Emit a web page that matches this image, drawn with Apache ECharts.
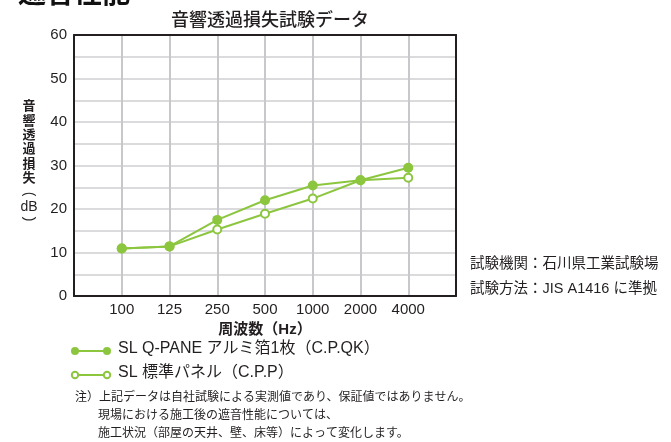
<!DOCTYPE html>
<html><head><meta charset="utf-8">
<script src="https://cdn.jsdelivr.net/npm/echarts@6/dist/echarts.min.js"></script>
<style>html,body{margin:0;padding:0;background:#fff}#c{width:671px;height:442px}</style>
</head><body><div id="c"></div>
<script>
const categories = ['100','125','250','500','1000','2000','4000'];
const seriesQK = [10.9, 11.4, 17.5, 22.0, 25.4, 26.6, 29.5];
const seriesCPP = [10.9, 11.4, 15.3, 18.9, 22.4, 26.6, 27.2];
const seriesNames = ['SL Q-PANE アルミ箔1枚（C.P.QK）', 'SL 標準パネル（C.P.P）'];
const yTicks = [0, 10, 20, 30, 40, 50, 60];

const FONT = '"Liberation Sans", "Noto Sans CJK JP", sans-serif';
const JP = '"Noto Sans CJK JP", "Liberation Sans", sans-serif';
const GREEN = '#8cc63f';
const DARK = '#231f20';

const toPts = arr => arr.map((v, i) => [i + 1, v]);

const chart = echarts.init(document.getElementById('c'), null, {renderer: 'canvas'});
const legendX = 75, legendY0 = 351, legendDy = 24;
const graphics = [
  {type:'text', left: 18, top: -22, style:{text:'遮音性能', font:'bold 28px ' + JP, fill:'#111'}},
  {type:'text', x: 29, y: 98, style:{text:'音\n響\n透\n過\n損\n失', font:'bold 13px ' + JP, fill:DARK, lineHeight: 14.4, align:'center', verticalAlign:'top'}},
  {type:'text', x: 29, y: 194, rotation: -Math.PI/2, style:{text:'(', font:'14px ' + FONT, fill:DARK, align:'center', verticalAlign:'middle'}},
  {type:'text', x: 29, y: 207, style:{text:'dB', font:'14px ' + FONT, fill:DARK, align:'center', verticalAlign:'middle'}},
  {type:'text', x: 29, y: 219, rotation: -Math.PI/2, style:{text:')', font:'14px ' + FONT, fill:DARK, align:'center', verticalAlign:'middle'}},
  {type:'text', left: 470, top: 257, style:{text:'試験機関：石川県工業試験場', font:'14.5px ' + FONT, fill:DARK}},
  {type:'text', left: 470, top: 282, style:{text:'試験方法：JIS A1416 に準拠', font:'14.5px ' + FONT, fill:DARK}},
  {type:'text', left: 75, top: 390, style:{text:'注）上記データは自社試験による実測値であり、保証値ではありません。', font:'12px ' + JP, fill:DARK}},
  {type:'text', left: 98, top: 408, style:{text:'現場における施工後の遮音性能については、', font:'12px ' + JP, fill:DARK}},
  {type:'text', left: 98, top: 426, style:{text:'施工状況（部屋の天井、壁、床等）によって変化します。', font:'12px ' + JP, fill:DARK}}
];
seriesNames.forEach((name, k) => {
  const y = legendY0 + k * legendDy;
  const filled = k === 0;
  graphics.push({type:'line', shape:{x1:legendX, y1:y, x2:legendX+32, y2:y}, style:{stroke:GREEN, lineWidth:2}});
  [legendX, legendX+32].forEach(cx => graphics.push({type:'circle', shape:{cx:cx, cy:y, r: filled ? 4 : 3.2}, style: filled ? {fill:GREEN} : {fill:'#fff', stroke:GREEN, lineWidth:2}}));
  graphics.push({type:'text', left: 118, top: y - 10, style:{text:name, font:'16px ' + FONT, fill:DARK}});
});

chart.setOption({
  animation: false,
  backgroundColor: '#fff',
  title: {text:'音響透過損失試験データ', left: 265, top: 5, textAlign:'center', textStyle:{fontFamily: JP, fontSize:18, fontWeight:500, color:DARK}},
  grid: {left: 74, right: 215, top: 35, bottom: 146},
  xAxis: [{
    type:'value', min:0, max:categories.length + 1, interval:1,
    axisLine:{lineStyle:{color:DARK, width:2}}, axisTick:{show:false},
    axisLabel:{formatter: v => categories[v - 1] || '', color:DARK, fontFamily:FONT, fontSize:15, margin:6},
    splitLine:{lineStyle:{color:'#c8c8cc', width:2}},
    name:'周波数（Hz）', nameLocation:'middle', nameGap:23,
    nameTextStyle:{fontFamily:FONT, fontSize:15, fontWeight:'bold', color:DARK}
  },{
    type:'value', position:'top', min:0, max:categories.length + 1, z:5,
    axisLine:{show:true, onZero:false, lineStyle:{color:DARK, width:2}}, axisTick:{show:false}, axisLabel:{show:false}, splitLine:{show:false}
  }],
  yAxis: [{
    type:'value', min:0, max:60, interval:5,
    axisLine:{show:true, lineStyle:{color:DARK, width:2}}, axisTick:{show:false},
    axisLabel:{formatter: v => yTicks.includes(v) ? String(v) : '', color:DARK, fontFamily:FONT, fontSize:15, margin:7},
    splitLine:{lineStyle:{color:'#cfcfd2', width:1.5}}
  },{
    type:'value', position:'right', min:0, max:60, z:5,
    axisLine:{show:true, onZero:false, lineStyle:{color:DARK, width:2}}, axisTick:{show:false}, axisLabel:{show:false}, splitLine:{show:false}
  }],
  series: [
    {name:seriesNames[1], type:'line', data:toPts(seriesCPP), symbol:'circle', symbolSize:8,
     itemStyle:{color:'#fff', borderColor:GREEN, borderWidth:2}, lineStyle:{color:GREEN, width:2}, z:3},
    {name:seriesNames[0], type:'line', data:toPts(seriesQK), symbol:'circle', symbolSize:10,
     itemStyle:{color:GREEN}, lineStyle:{color:GREEN, width:2}, z:4}
  ],
  graphic: graphics
});
</script></body></html>
